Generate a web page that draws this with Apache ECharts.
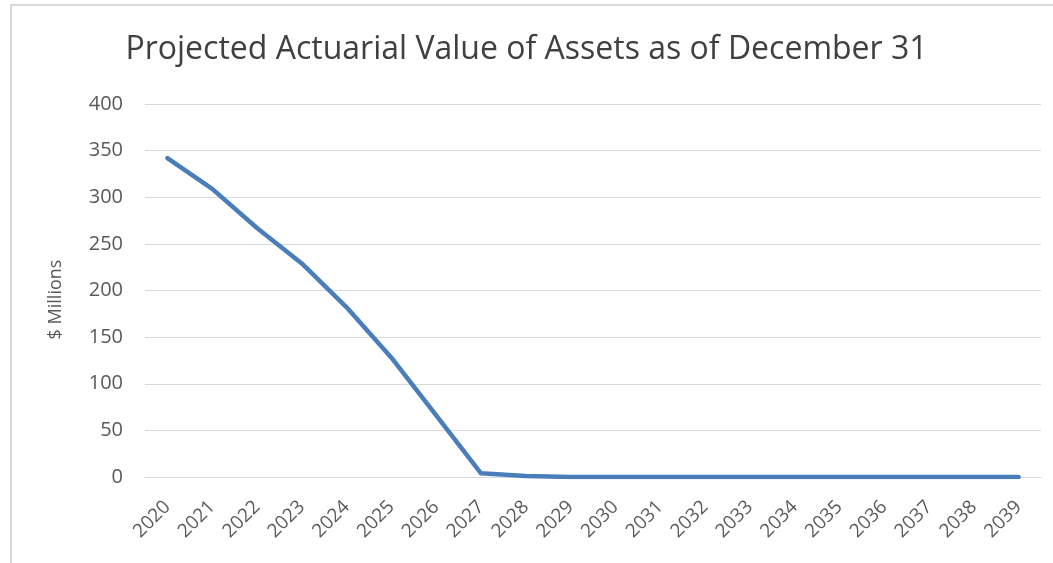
<!DOCTYPE html>
<html>
<head>
<meta charset="utf-8">
<script src="https://cdn.jsdelivr.net/npm/echarts@6/dist/echarts.min.js"></script>
<style>
    html, body { margin: 0; padding: 0; background: #fff; }
    #chart { position: absolute; left: 0; top: 0; width: 1053px; height: 563px; }
    #frame {
        position: absolute;
        left: 10px;
        top: 4px;
        width: 1043px;
        height: 559px;
        border-top: 2px solid #d9d9d9;
        border-left: 2px solid #d9d9d9;
        pointer-events: none;
        z-index: 5;
    }
</style>
</head>
<body>
<div id="chart"></div>
<div id="frame"></div>
<script>
    // 年份
    const years = ['2020', '2021', '2022', '2023', '2024', '2025', '2026', '2027', '2028', '2029',
        '2030', '2031', '2032', '2033', '2034', '2035', '2036', '2037', '2038', '2039'];
    // 资产价值 ($ Millions)
    const assets = [342, 309, 267, 229, 182, 128, 66, 4, 1, 0,
        0, 0, 0, 0, 0, 0, 0, 0, 0, 0];

    const mChart = echarts.init(document.getElementById('chart'));
    const options = {
        title: {
            text: 'Projected Actuarial Value of Assets as of December 31',
            left: 'center',
            top: 29,
            textStyle: {
                fontFamily: 'Open Sans',
                fontSize: 32,
                fontWeight: 'normal',
                color: '#404040'
            }
        },
        grid: {
            left: 145,
            right: 12,
            top: 104,
            bottom: 86
        },
        xAxis: {
            type: 'category',
            data: years,
            boundaryGap: true,
            axisLine: { show: true, lineStyle: { color: '#d9d9d9', width: 1 } },
            axisTick: { show: false },
            axisLabel: {
                rotate: 45,
                margin: 27,
                fontFamily: 'Open Sans',
                fontSize: 19,
                color: '#595959'
            }
        },
        yAxis: {
            type: 'value',
            min: 0,
            max: 400,
            interval: 50,
            name: '$ Millions',
            nameLocation: 'middle',
            nameGap: 80,
            nameTextStyle: {
                fontFamily: 'Open Sans',
                fontSize: 18,
                color: '#595959',
                padding: [0, 18, 0, 0]
            },
            axisLine: { show: false },
            axisTick: { show: false },
            splitLine: { lineStyle: { color: '#d9d9d9', width: 1 } },
            axisLabel: {
                margin: 22,
                fontFamily: 'Open Sans',
                fontSize: 20,
                color: '#595959'
            }
        },
        series: [
            {
                type: 'line',
                data: assets,
                showSymbol: false,
                lineStyle: { color: '#4a7ebb', width: 4.5, cap: 'round', join: 'round' },
                itemStyle: { color: '#4a7ebb' }
            }
        ]
    };
    mChart.setOption(options);
</script>
</body>
</html>
